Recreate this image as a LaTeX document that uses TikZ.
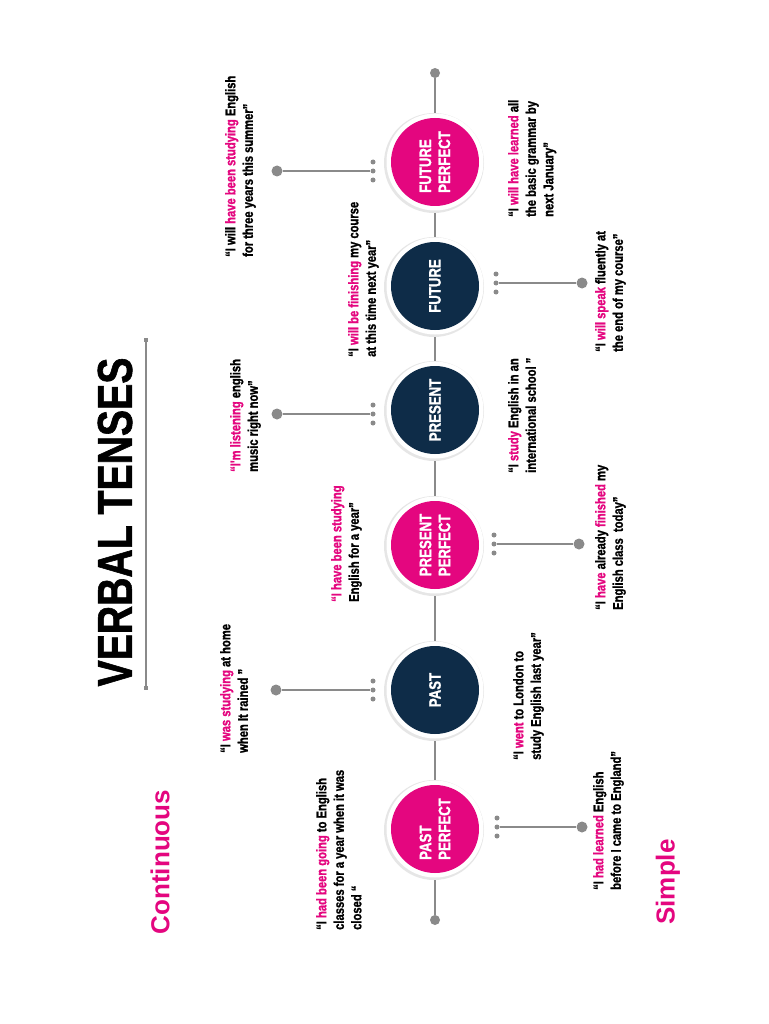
\documentclass[tikz,border=0pt]{standalone}
\usepackage{fontspec}
\setmainfont{Liberation Sans}
\newfontfamily\cond{Liberation Sans}[FakeStretch=0.8, BoldFeatures={FakeBold=1.2}]
\definecolor{mag}{HTML}{E4067F}
\definecolor{navy}{HTML}{0E2C48}
\definecolor{tlgray}{HTML}{8A8A8A}
\definecolor{halogray}{HTML}{E6E6E6}
\newcommand{\hl}[1]{\textcolor{mag}{#1}}
\begin{document}
\begin{tikzpicture}[x=1pt,y=-1pt,
  quote/.style={rotate=90, anchor=north west, inner sep=0pt, align=left,
    font=\cond\bfseries\fontsize{14}{17.5}\selectfont, text=black},
  tense/.style={circle, minimum size=88pt, inner sep=0pt, text=white, align=left,
    rotate=90, font=\cond\bfseries\fontsize{16.5}{19}\selectfont},
  halo/.style={circle, minimum size=100pt, inner sep=0pt, fill=halogray},
  ring/.style={circle, minimum size=97pt, inner sep=0pt, fill=white},
  bigdot/.style={circle, minimum size=11pt, inner sep=0pt, fill=tlgray},
  smalldot/.style={circle, minimum size=5pt, inner sep=0pt, fill=tlgray},
  conn/.style={draw=tlgray, line width=1.1pt},
  sqend/.style={rectangle, minimum size=4pt, inner sep=0pt, fill=tlgray}]
\useasboundingbox (0,0) rectangle (768,1024);
\fill[white] (0,0) rectangle (768,1024);

% title
\node[rotate=90, inner sep=0pt, font=\cond\bfseries\fontsize{49}{49}\selectfont] (title) at (115,522) {VERBAL TENSES};
\node[sqend] (ula) at (146,688) {};
\node[sqend] (ulb) at (146,340) {};
\draw[conn] (ula) -- (ulb);

\node[rotate=90, inner sep=0pt, text=mag, font=\bfseries\fontsize{26}{26}\selectfont] (cont) at (160,862) {Continuous};
\node[rotate=90, inner sep=0pt, text=mag, font=\bfseries\fontsize{26}{26}\selectfont] (simp) at (668,882) {Simple};

% timeline
\node[bigdot, minimum size=10pt] (tlb) at (435,920) {};
\node[bigdot, minimum size=10pt] (tlt) at (435,73) {};
\draw[conn, line width=1.6pt] (tlb) -- (tlt);

% tense circles
\foreach \n/\y in {pp/829, pa/690, prp/545, pr/410, fu/286, fp/162}{
  \node[halo] (\n-h) at (434,\y+1) {};
  \node[ring] (\n-r) at (435,\y) {};
}
\node[tense, fill=mag] (pp) at (435,829) {PAST\\PERFECT};
\node[tense, fill=navy, align=center] (pa) at (435,690) {PAST};
\node[tense, fill=mag] (prp) at (435,545) {PRESENT\\PERFECT};
\node[tense, fill=navy, align=center] (pr) at (435,410) {PRESENT};
\node[tense, fill=navy, align=center] (fu) at (435,286) {FUTURE};
\node[tense, fill=mag] (fp) at (435,162) {FUTURE\\PERFECT};

% side connectors
\foreach \n/\x/\y/\bx in {pp/497/827/582, pa/373/690/276, prp/494/544/579, pr/373/414/277, fu/496/283/582, fp/373/171/277}{
  \node[smalldot] (\n-d1) at (\x,\y-9) {};
  \node[smalldot] (\n-d2) at (\x,\y) {};
  \node[smalldot] (\n-d3) at (\x,\y+9) {};
  \node[bigdot] (\n-b) at (\bx,\y) {};
  \draw[conn] (\n-d2) -- (\n-b);
}

% quotes
\node[quote] (q1) at (316,930) {“I \hl{had been going} to English\\classes for a year when it was\\closed “};
\node[quote] (q2) at (220,753) {“I \hl{was studying} at home\\when It rained ”};
\node[quote] (q3) at (513,760) {“I \hl{went} to London to\\study English last year”};
\node[quote] (q4) at (593,890) {“I \hl{had learned} English\\before I came to England”};
\node[quote] (q5) at (331,602) {\hl{“I have been studying}\\English for a year”};
\node[quote] (q6) at (595,610) {“I \hl{have} already \hl{finished} my\\English class\ \ today”};
\node[quote] (q7) at (230,472) {\hl{“I'm listening} english\\music right now”};
\node[quote] (q8) at (508,473) {“I \hl{study} English in an\\international school ”};
\node[quote] (q9) at (348,357) {“I \hl{will be finishing} my course\\at this time next year”};
\node[quote] (q10) at (595,352) {“I \hl{will speak} fluently at\\the end of my course”};
\node[quote] (q11) at (225,257) {“I will \hl{have been studying} English\\for three years this summer”};
\node[quote] (q12) at (508,217) {“I \hl{will have learned} all\\the basic grammar by\\next January”};
\end{tikzpicture}
\end{document}
